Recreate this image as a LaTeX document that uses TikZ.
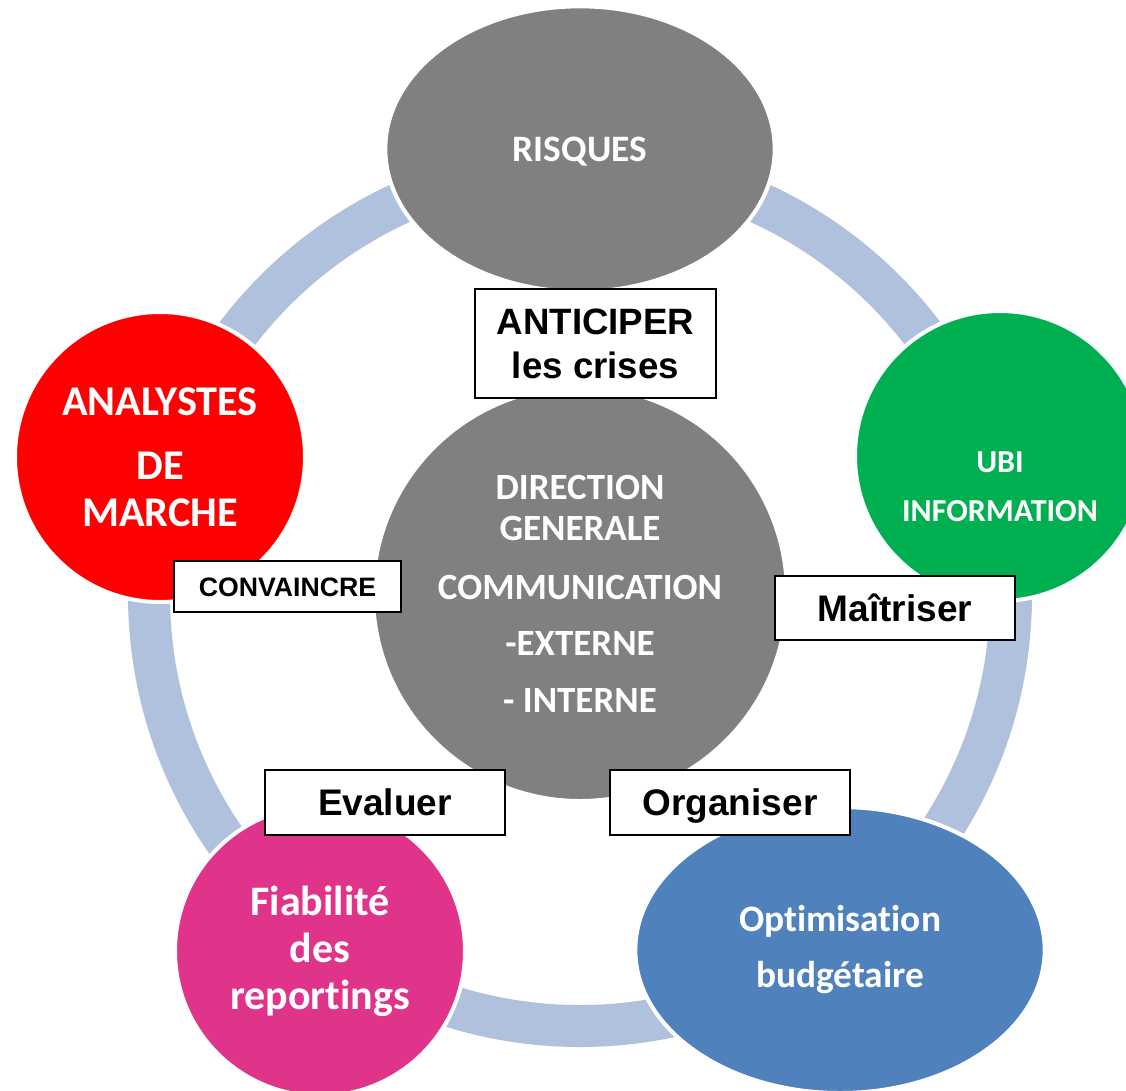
\documentclass[tikz,border=0pt]{standalone}
\usepackage{fontspec}
\setmainfont{Carlito}[Ligatures=NoCommon]
\newfontfamily\arialfont{Liberation Sans}
\usetikzlibrary{shapes.geometric}

\definecolor{ringblue}{RGB}{176,193,222}
\definecolor{riskgray}{RGB}{128,128,128}
\definecolor{marketred}{RGB}{255,0,0}
\definecolor{ubigreen}{RGB}{0,176,80}
\definecolor{reportpink}{RGB}{224,51,138}
\definecolor{budgetblue}{RGB}{79,129,189}

\tikzset{every picture/.style={line width=0.75pt}}
\tikzset{
  ring/.style={draw=ringblue, line width=31.5pt},
  bubble/.style={ellipse, draw=white, line width=3pt, inner sep=0pt, text=white, align=center},
  bubbletext/.style={inner sep=0pt, text=white, align=center},
  verbbox/.style={rectangle, draw=black, fill=white, line width=1.5pt, inner sep=0pt, align=center},
  verbfont/.style={font={\arialfont\bfseries\fontsize{27.75pt}{33pt}\selectfont}, text height=20pt, text depth=0pt}
}

\begin{document}
\begin{tikzpicture}[x=0.75pt,y=0.75pt,yscale=-1,xscale=1]
\useasboundingbox (0,0) rectangle (1126,1090);
\clip (0,0) rectangle (1126,1090);

%Ring
\coordinate (hub) at (580,595);
\draw [ring] (hub) circle [radius=431];

%Bubbles
\node [bubble, fill=riskgray, minimum width=292pt, minimum height=214pt, text depth=0pt, font={\bfseries\fontsize{28pt}{32pt}\selectfont}] (risques) at (580,149) {RISQUES};
\node [bubble, fill=marketred, minimum width=217.5pt, minimum height=217.5pt, font={\bfseries\fontsize{31.75pt}{35.5pt}\selectfont}] (analystes) at (160,457) {ANALYSTES\\[12.5pt]DE\\MARCHE};
\node [bubble, fill=ubigreen, minimum width=217.5pt, minimum height=217.5pt] (ubi) at (1000,456) {};
\node [bubbletext, font={\bfseries\fontsize{24pt}{36.5pt}\selectfont}] (ubitext) at ([yshift=23pt]ubi.center) {UBI\\INFORMATION};
\node [bubble, fill=riskgray, minimum width=310.5pt, minimum height=310.5pt, font={\bfseries\fontsize{27.75pt}{31pt}\selectfont}] (dg) at (580,594) {DIRECTION\\GENERALE\\[13pt]COMMUNICATION\\[11pt]-EXTERNE\\[12pt]- INTERNE};
\node [bubble, fill=reportpink, minimum width=217.5pt, minimum height=217.5pt, font={\bfseries\fontsize{31.5pt}{35.25pt}\selectfont}] (fiabilite) at (320,951) {Fiabilité\\des\\reportings};
\node [bubble, fill=budgetblue, minimum width=307pt, minimum height=214.5pt, font={\bfseries\fontsize{28pt}{42pt}\selectfont}] (optim) at (840,950) {Optimisation\\budgétaire};

%Verb boxes
\node [verbbox, minimum width=180.75pt, minimum height=81.75pt, font={\arialfont\bfseries\fontsize{27.5pt}{33pt}\selectfont}] (anticiper) at (595.5,343.5) {ANTICIPER\\les crises};
\node [verbbox, minimum width=170pt, minimum height=38.25pt, text height=14.3pt, text depth=0pt, font={\arialfont\bfseries\fontsize{20pt}{22pt}\selectfont}] (convaincre) at (287.5,586.5) {CONVAINCRE};
\node [verbbox, verbfont, minimum width=180pt, minimum height=48pt] (maitriser) at (895,608) {Maîtriser};
\node [verbbox, verbfont, minimum width=180pt, minimum height=48.75pt] (evaluer) at (385,802.5) {Evaluer};
\node [verbbox, verbfont, minimum width=180pt, minimum height=48.75pt] (organiser) at (730,802.5) {Organiser};

\end{tikzpicture}
\end{document}
